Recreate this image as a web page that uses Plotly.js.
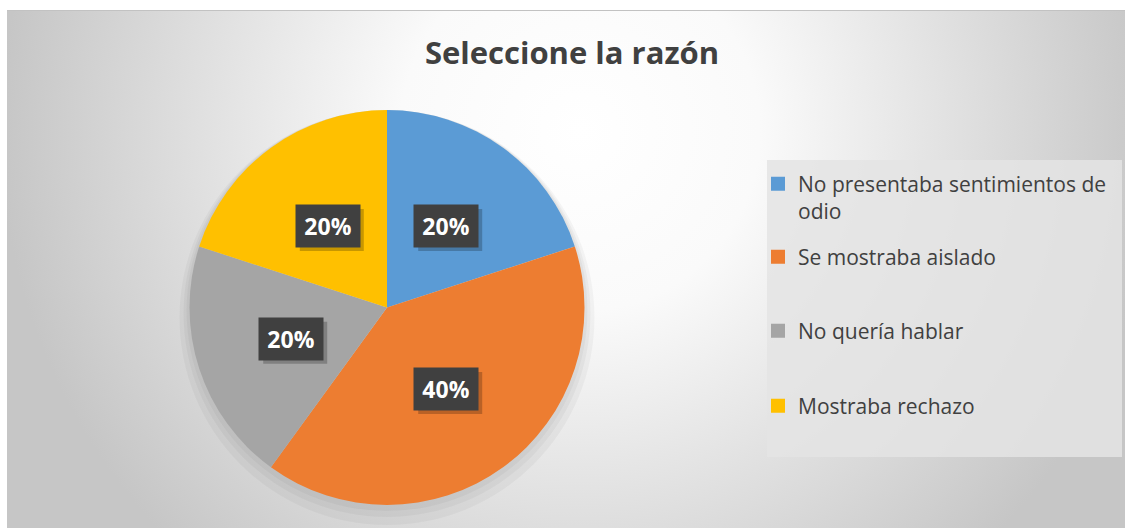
<!DOCTYPE html>
<html><head><meta charset="utf-8">
<script src="https://cdn.plot.ly/plotly-3.0.1.min.js"></script>
<style>
html,body{margin:0;padding:0;background:#fff;width:1125px;height:528px;overflow:hidden;}
#bg{position:absolute;left:7px;top:10px;width:1118px;height:518px;border-top:1px solid #c2c2c2;box-sizing:border-box;
background:radial-gradient(circle 580px at 573px 120px,#ffffff 0px,#fafafa 180px,#c6c6c6 580px);}
#chart{position:absolute;left:0;top:0;width:1125px;height:528px;}
</style></head><body>
<div id="bg"></div><div id="chart"></div>
<script>
// ---- data ----
const chartTitle = 'Seleccione la razón';
const categories = ['No presentaba sentimientos de odio', 'Se mostraba aislado', 'No quería hablar', 'Mostraba rechazo'];
const values = [20, 40, 20, 20];
const colors = ['#5B9BD5', '#ED7D31', '#A5A5A5', '#FFC000'];

// ---- layout constants ----
const W = 1125, H = 528;
const FONT = '"Open Sans", Lato, sans-serif';
const pieDomain = {x: [189 / W, 585 / W], y: [1 - 505 / H, 1 - 110 / H]};
const legendLeft = 758;
const legendRowCenters = [182.5, 255.5, 329.5, 404.5];

function wrap(s, maxLen) {
  const words = s.split(' '); const lines = []; let cur = '';
  words.forEach(w => {
    if ((cur + ' ' + w).trim().length > maxLen) { lines.push(cur); cur = w; }
    else cur = (cur + ' ' + w).trim();
  });
  lines.push(cur);
  return lines.join('<br>');
}

const total = values.reduce((a, b) => a + b, 0);
const traces = [{
  type: 'pie', labels: categories, values: values, sort: false, direction: 'clockwise', rotation: 0,
  marker: {colors: colors, line: {width: 0}}, textinfo: 'none', hoverinfo: 'label+percent',
  showlegend: false, domain: pieDomain
}];

const layout = {
  width: W, height: H, margin: {l: 0, r: 0, t: 0, b: 0},
  paper_bgcolor: 'rgba(0,0,0,0)', plot_bgcolor: 'rgba(0,0,0,0)',
  font: {family: FONT, color: '#404040'},
  title: {text: chartTitle, x: 572 / W, xref: 'container', xanchor: 'center', y: 1 - 53 / H, yref: 'container', yanchor: 'middle',
    font: {family: FONT, size: 31, color: '#404040', weight: 'bold'}},
  xaxis: {visible: false, fixedrange: true}, yaxis: {visible: false, fixedrange: true},
  shapes: [{type: 'rect', xref: 'paper', yref: 'paper', x0: 767 / W, x1: 1122 / W, y0: 1 - 457 / H, y1: 1 - 160 / H,
    fillcolor: 'rgba(228,228,228,0.85)', line: {width: 0}, layer: 'below'}],
  annotations: []
};

// legend entries (one per slice, same colours and names)
categories.forEach((c, i) => {
  const lid = i === 0 ? 'legend' : 'legend' + (i + 1);
  traces.push({type: 'scatter', mode: 'markers', x: [null], y: [null], name: wrap(c, 29),
    marker: {symbol: 'square', size: 14, color: colors[i], line: {width: 0}},
    showlegend: true, legend: lid, hoverinfo: 'skip'});
  layout[lid] = {x: legendLeft / W, xanchor: 'left', y: 1 - (legendRowCenters[i] - 19) / H, yanchor: 'top',
    bgcolor: 'rgba(0,0,0,0)', borderwidth: 0, valign: 'top',
    font: {family: FONT, size: 21, color: '#404040'}};
});

// pie geometry
const cxp = (pieDomain.x[0] + pieDomain.x[1]) / 2, cyp = (pieDomain.y[0] + pieDomain.y[1]) / 2;
const cx = cxp * W, cy = (1 - cyp) * H;
const R = Math.min((pieDomain.x[1] - pieDomain.x[0]) * W, (pieDomain.y[1] - pieDomain.y[0]) * H) / 2;

// soft shadow under the pie (mostly below it)
[10, 6, 3].forEach(d => {
  layout.shapes.push({type: 'circle', xref: 'paper', yref: 'paper', xsizemode: 'pixel', ysizemode: 'pixel',
    xanchor: cxp, yanchor: cyp, x0: -R - d, x1: R + d, y0: -R - 2 * d, y1: R,
    fillcolor: 'rgba(0,0,0,0.035)', line: {width: 0}, layer: 'below'});
});

// data labels centred in each slice
let cum = 0;
values.forEach((v, i) => {
  const mid = (cum + v / 2) / total * 2 * Math.PI; cum += v;
  const px = cx + 0.51 * R * Math.sin(mid), py = cy - 0.51 * R * Math.cos(mid);
  const xp = px / W, yp = 1 - py / H;
  const txt = Math.round(v / total * 100) + '%';
  layout.shapes.push({type: 'rect', xref: 'paper', yref: 'paper', xsizemode: 'pixel', ysizemode: 'pixel',
    xanchor: xp, yanchor: yp, x0: -32 + 4, x1: 32 + 4, y0: -21 - 4, y1: 21 - 4,
    fillcolor: 'rgba(0,0,0,0.22)', line: {width: 0}, layer: 'above'});
  layout.annotations.push({xref: 'paper', yref: 'paper', x: xp, y: yp, xanchor: 'center', yanchor: 'middle',
    showarrow: false, text: txt, width: 64, height: 42, borderpad: 0, bgcolor: '#404040',
    font: {family: FONT, size: 23, color: '#ffffff', weight: 'bold'}});
});

Plotly.newPlot('chart', traces, layout, {displayModeBar: false, staticPlot: true});
</script></body></html>
